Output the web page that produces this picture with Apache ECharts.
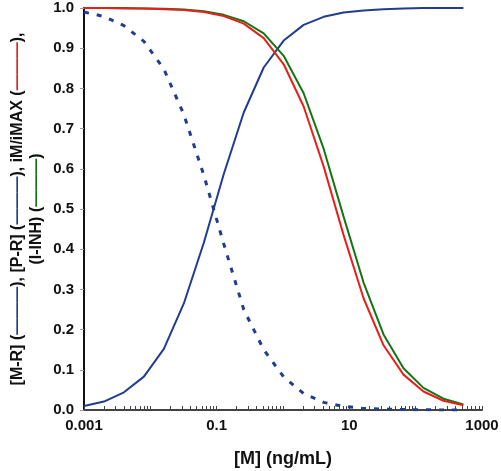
<!DOCTYPE html>
<html>
<head>
<meta charset="utf-8">
<script src="https://cdn.jsdelivr.net/npm/echarts@6/dist/echarts.min.js"></script>
<style>html,body{margin:0;padding:0;background:#fff}#c{width:501px;height:471px}</style>
</head>
<body>
<div id="c"></div>
<script>
// Concentrations [M] (ng/mL)
var conc = [0.001, 0.002, 0.004, 0.008, 0.016, 0.032, 0.064, 0.128, 0.256, 0.512,
            1.024, 2.048, 4.096, 8.192, 16.384, 32.768, 65.536, 131.072, 262.144, 524.288];
// [M-R] solid blue
var mR = [0.010, 0.021, 0.044, 0.083, 0.152, 0.265, 0.416, 0.587, 0.740, 0.852,
          0.919, 0.958, 0.978, 0.989, 0.994, 0.997, 0.999, 1.000, 1.000, 1.000];
// [P-R] dashed blue
var pR = [0.990, 0.979, 0.956, 0.917, 0.848, 0.735, 0.584, 0.413, 0.250, 0.150,
          0.082, 0.041, 0.019, 0.009, 0.004, 0.002, 0.001, 0.0005, 0.0002, 0.0001];
// iM/iMAX red
var iM = [1.000, 1.000, 0.999, 0.999, 0.997, 0.995, 0.990, 0.980, 0.961, 0.925,
          0.860, 0.755, 0.606, 0.435, 0.278, 0.161, 0.088, 0.046, 0.023, 0.012];
// (1-INH) green
var inh = [1.000, 1.000, 1.000, 0.999, 0.998, 0.996, 0.992, 0.983, 0.967, 0.937,
           0.881, 0.788, 0.650, 0.481, 0.317, 0.188, 0.104, 0.055, 0.028, 0.014];
// x tick labels
var xLabelVals = [0.001, 0.1, 10, 1000];
var xLabelText = ['0.001', '0.1', '10', '1000'];
// x tick marks (log minor ticks)
var xTickVals = [];
[0.001, 0.01, 0.1, 1, 10, 100].forEach(function (d) {
  for (var k = 1; k <= 9; k++) xTickVals.push(+(d * k).toPrecision(3));
});
xTickVals.push(1000);

var BLUE = '#203d8e', RED = '#e8201c', GREEN = '#137513';
var FONT = '"Liberation Sans", Arial, sans-serif';

function pairs(ys) { return conc.map(function (x, i) { return [x, ys[i]]; }); }

var chart = echarts.init(document.getElementById('c'), null, {renderer: 'canvas'});
chart.setOption({
  animation: false,
  backgroundColor: '#fff',
  grid: {left: 84, right: 19, top: 8, bottom: 61, containLabel: false, outerBoundsMode: 'none'},
  xAxis: {
    type: 'log', logBase: 10, min: 0.001, max: 1000,
    name: '[M] (ng/mL)', nameLocation: 'middle', nameGap: 40,
    nameTextStyle: {fontFamily: FONT, fontWeight: 'bold', fontSize: 18, color: '#111'},
    axisLine: {show: true, lineStyle: {color: '#444', width: 2}},
    axisTick: {show: true, inside: true, length: 4, customValues: xTickVals, lineStyle: {color: '#444', width: 1}},
    minorTick: {show: false},
    axisLabel: {
      customValues: xLabelVals, margin: 8,
      fontFamily: FONT, fontWeight: 'bold', fontSize: 15, color: '#111',
      formatter: function (v) {
        for (var i = 0; i < xLabelVals.length; i++) if (Math.abs(Math.log10(v) - Math.log10(xLabelVals[i])) < 1e-6) return xLabelText[i];
        return '';
      }
    },
    splitLine: {show: false}
  },
  yAxis: {
    type: 'value', min: 0, max: 1, interval: 0.1,
    name: '[M-R] ({b|———}), [P-R] ({b|———}), iM/iMAX ({r|———}),\n(I-INH) ({g|———})',
    nameLocation: 'middle', nameRotate: 90, nameGap: 38, nameMoveOverlap: false,
    nameTextStyle: {
      fontFamily: FONT, fontWeight: 'bold', fontSize: 16, color: '#111', lineHeight: 19, align: 'center',
      rich: {
        b: {color: BLUE, fontFamily: FONT, fontSize: 16, fontWeight: 'bold'},
        r: {color: RED, fontFamily: FONT, fontSize: 16, fontWeight: 'bold'},
        g: {color: GREEN, fontFamily: FONT, fontSize: 16, fontWeight: 'bold'}
      }
    },
    axisLine: {show: true, lineStyle: {color: '#111', width: 2}},
    axisTick: {show: true, inside: false, length: 4, lineStyle: {color: '#999', width: 1}},
    axisLabel: {
      margin: 10, fontFamily: FONT, fontWeight: 'bold', fontSize: 15, color: '#111',
      formatter: function (v) { return v.toFixed(1); }
    },
    splitLine: {show: false}
  },
  series: [
    {type: 'line', data: pairs(pR), showSymbol: false, symbol: 'none', smooth: false,
     lineStyle: {color: BLUE, width: 3, type: [5, 8]}, z: 2},
    {type: 'line', data: pairs(mR), showSymbol: false, symbol: 'none', smooth: false,
     lineStyle: {color: BLUE, width: 2}, z: 3},
    {type: 'line', data: pairs(inh), showSymbol: false, symbol: 'none', smooth: false,
     lineStyle: {color: GREEN, width: 2}, z: 4},
    {type: 'line', data: pairs(iM), showSymbol: false, symbol: 'none', smooth: false,
     lineStyle: {color: RED, width: 2}, z: 5}
  ]
});
</script>
</body>
</html>
